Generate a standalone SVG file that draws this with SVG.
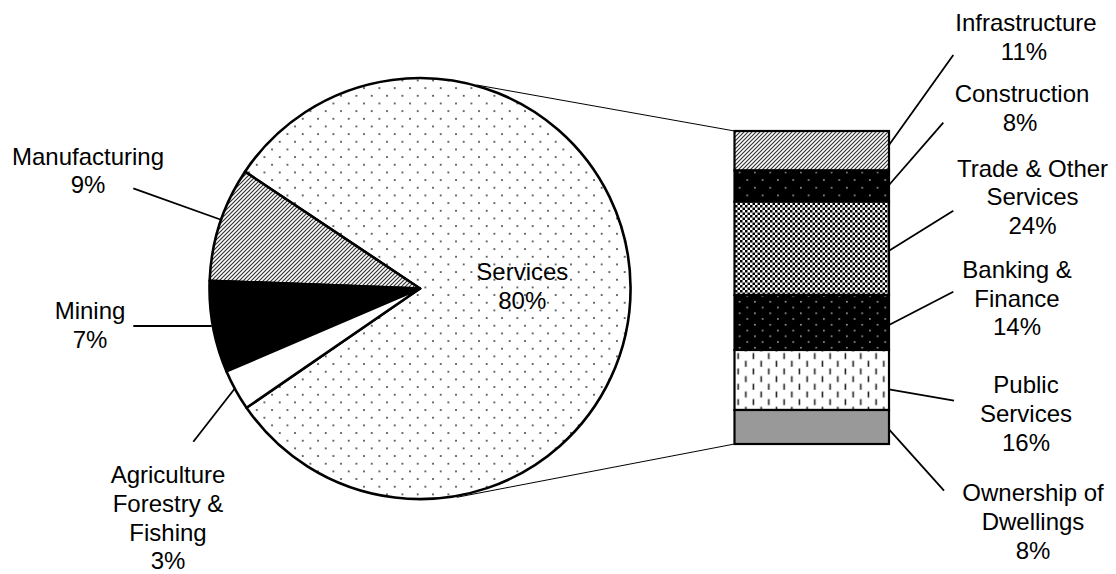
<svg xmlns="http://www.w3.org/2000/svg" width="1116" height="574" viewBox="0 0 1116 574">
<style>
text{font-family:"Liberation Sans",Arial,sans-serif;font-size:24px;fill:#000;text-anchor:middle}
.slice{stroke:#000;stroke-width:2.6;stroke-linejoin:round}
.seg{stroke:#000;stroke-width:2.2}
.lead{stroke:#000;stroke-width:1.8;fill:none}
.zoom{stroke:#000;stroke-width:1;fill:none}
</style>
<defs>
<pattern id="pDots" patternUnits="userSpaceOnUse" width="15.33" height="15.33">
<rect width="15.33" height="15.33" fill="#fff"/>
<rect x="3" y="3" width="1.6" height="1.6" fill="#222"/>
<rect x="10.67" y="10.67" width="1.6" height="1.6" fill="#222"/>
</pattern>
<pattern id="pHatch" patternUnits="userSpaceOnUse" width="4" height="4">
<rect width="4" height="4" fill="#fff"/>
<path d="M-1,1 L1,-1 M0,4 L4,0 M3,5 L5,3" stroke="#333" stroke-width="1.2"/>
</pattern>
<pattern id="pConstr" patternUnits="userSpaceOnUse" width="15.33" height="15.33">
<rect width="15.33" height="15.33" fill="#000"/>
<rect x="3" y="3" width="1.5" height="1.5" fill="#bbb"/>
<rect x="10.67" y="10.67" width="1.5" height="1.5" fill="#bbb"/>
</pattern>
<pattern id="pCheck" patternUnits="userSpaceOnUse" width="5" height="5">
<rect width="5" height="5" fill="#fff"/>
<rect x="0" y="0" width="2.5" height="2.5" fill="#000"/>
<rect x="2.5" y="2.5" width="2.5" height="2.5" fill="#000"/>
</pattern>
<pattern id="pBank" patternUnits="userSpaceOnUse" width="15.33" height="11.5">
<rect width="15.33" height="11.5" fill="#000"/>
<rect x="3" y="2" width="1.5" height="1.5" fill="#bbb"/>
<rect x="10.67" y="7.75" width="1.5" height="1.5" fill="#bbb"/>
</pattern>
<pattern id="pDash" patternUnits="userSpaceOnUse" width="15.33" height="15.33">
<rect width="15.33" height="15.33" fill="#fff"/>
<rect x="1.5" y="0.5" width="1.6" height="6" fill="#222"/>
<rect x="9.2" y="8.2" width="1.6" height="6" fill="#222"/>
</pattern>
</defs>

<g id="connectors">
<line class="zoom" x1="476.7" y1="85" x2="734.5" y2="131"/>
<line class="zoom" x1="456.7" y1="497.3" x2="734.5" y2="444"/>
<line class="lead" x1="133.3" y1="188.3" x2="221.7" y2="220"/>
<line class="lead" x1="133.3" y1="326" x2="211.7" y2="326"/>
<line class="lead" x1="193.3" y1="441.7" x2="235" y2="388.3"/>
<line class="lead" x1="953.3" y1="55" x2="889" y2="145"/>
<line class="lead" x1="943.3" y1="122.7" x2="889" y2="185"/>
<line class="lead" x1="953.3" y1="210.7" x2="889" y2="250.7"/>
<line class="lead" x1="953.3" y1="291.7" x2="889" y2="325"/>
<line class="lead" x1="889" y1="389.3" x2="954" y2="400.7"/>
<line class="lead" x1="889" y1="429.3" x2="944" y2="490.7"/>
</g>

<g id="pie-services">
<path class="slice" fill="url(#pDots)" d="M420,288.5 L246.52,407.73 A210.5,210.5 0 1 0 245.0,171.7 Z"/>
<text x="522.3" y="280">Services</text>
<text x="522.3" y="308.7">80%</text>
</g>
<g id="pie-manufacturing">
<path class="slice" fill="url(#pHatch)" d="M420,288.5 L245.0,171.7 A210.5,210.5 0 0 0 209.64,280.79 Z"/>
<text x="88" y="164.5">Manufacturing</text>
<text x="88" y="193.3">9%</text>
</g>
<g id="pie-mining">
<path class="slice" fill="#000" d="M420,288.5 L209.64,280.79 A210.5,210.5 0 0 0 226.52,371.42 Z"/>
<text x="90" y="319.3">Mining</text>
<text x="90" y="347.7">7%</text>
</g>
<g id="pie-agriculture">
<path class="slice" fill="#fff" d="M420,288.5 L226.52,371.42 A210.5,210.5 0 0 0 246.52,407.73 Z"/>
<text x="168" y="483.3">Agriculture</text>
<text x="168" y="512">Forestry &amp;</text>
<text x="168" y="540.7">Fishing</text>
<text x="168" y="569.3">3%</text>
</g>

<g id="bar-infrastructure">
<rect class="seg" x="734.5" y="131" width="154.5" height="39.5" fill="url(#pHatch)"/>
<text x="1026" y="31">Infrastructure</text>
<text x="1024" y="60">11%</text>
</g>
<g id="bar-construction">
<rect class="seg" x="734.5" y="170.5" width="154.5" height="31.2" fill="url(#pConstr)"/>
<text x="1022" y="101.7">Construction</text>
<text x="1020" y="130.7">8%</text>
</g>
<g id="bar-trade">
<rect class="seg" x="734.5" y="201.7" width="154.5" height="93.3" fill="url(#pCheck)"/>
<text x="1032.5" y="176.7">Trade &amp; Other</text>
<text x="1032.5" y="205.3">Services</text>
<text x="1032.5" y="234">24%</text>
</g>
<g id="bar-banking">
<rect class="seg" x="734.5" y="295" width="154.5" height="55" fill="url(#pBank)"/>
<text x="1017" y="278">Banking &amp;</text>
<text x="1017" y="306.7">Finance</text>
<text x="1017" y="335.3">14%</text>
</g>
<g id="bar-public">
<rect class="seg" x="734.5" y="350" width="154.5" height="60" fill="url(#pDash)"/>
<text x="1026" y="392.7">Public</text>
<text x="1026" y="422">Services</text>
<text x="1026" y="451">16%</text>
</g>
<g id="bar-ownership">
<rect class="seg" x="734.5" y="410" width="154.5" height="34" fill="#999"/>
<text x="1033" y="500.7">Ownership of</text>
<text x="1033" y="529.5">Dwellings</text>
<text x="1033" y="559">8%</text>
</g>
</svg>
